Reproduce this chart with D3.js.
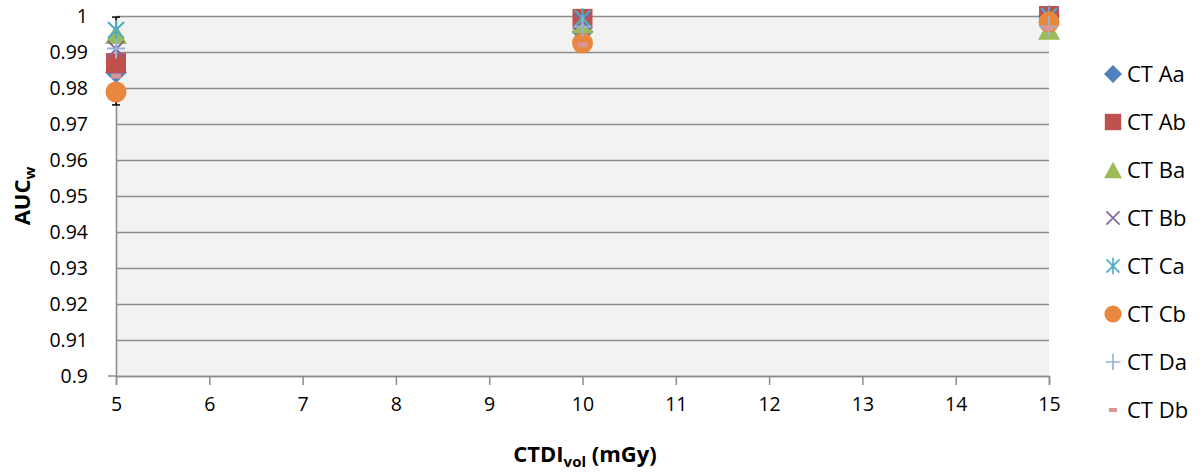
<!DOCTYPE html>
<html>
<head>
<meta charset="utf-8">
<script src="https://cdn.jsdelivr.net/npm/d3@7"></script>
<style>
  body { margin: 0; background: #fff; }
  text { font-family: "Open Sans", "Liberation Sans", sans-serif; fill: #000; }
</style>
</head>
<body>
<svg width="1204" height="472"></svg>
<script>
var doses = [5, 10, 15];
var seriesNames = ["CT Aa", "CT Ab", "CT Ba", "CT Bb", "CT Ca", "CT Cb", "CT Da", "CT Db"];
var aa = [0.9844, 0.9956, 1.0];
var ab = [0.9869, 0.9992, 1.0];
var ba = [0.9950, 0.9980, 0.9962];
var bb = [0.9908, 0.9985, 0.9995];
var ca = [0.9961, 0.9994, 1.0];
var cb = [0.9789, 0.9925, 0.9983];
var da = [0.9910, 0.9970, 0.9970];
var db = [0.9833, 0.9920, 0.9967];
var errLow = [0.9753, 0.9900, 0.9970];
var errHigh = [0.9997, 1.0005, 1.0];
var xTicks = [5, 6, 7, 8, 9, 10, 11, 12, 13, 14, 15];
var yTicks = [0.9, 0.91, 0.92, 0.93, 0.94, 0.95, 0.96, 0.97, 0.98, 0.99, 1];

var values = [aa, ab, ba, bb, ca, cb, da, db];
var colors = ["#4F81BD", "#C0504D", "#9BBB59", "#8064A2", "#4BACC6", "#E8883E", "#95B3D7", "#D99694"];
var shapes = ["diamond", "square", "triangle", "x", "star", "circle", "plus", "dash"];

var svg = d3.select("svg");
var plotLeft = 116, plotRight = 1049, plotTop = 16, plotBottom = 376;

var x = d3.scaleLinear().domain([5, 15]).range([plotLeft, plotRight]);
var y = d3.scaleLinear().domain([0.9, 1]).range([plotBottom, plotTop]);

svg.append("rect")
    .attr("x", plotLeft).attr("y", plotTop)
    .attr("width", plotRight - plotLeft).attr("height", plotBottom - plotTop)
    .attr("fill", "#F2F2F2");

// gridlines
svg.append("g")
    .attr("transform", "translate(" + plotLeft + ",0)")
    .call(d3.axisLeft(y).tickValues(yTicks).tickSize(-(plotRight - plotLeft)).tickFormat(""))
    .call(function(g) { g.select(".domain").remove(); })
    .selectAll("line").attr("stroke", "#8C8C8C").attr("stroke-width", 1.5);

// y axis
var yAxis = svg.append("g")
    .attr("transform", "translate(" + plotLeft + ",0)")
    .call(d3.axisLeft(y).tickValues(yTicks).tickSize(0).tickPadding(28)
      .tickFormat(function(d) { return d === 1 ? "1" : d3.format(".2~f")(d); }));
yAxis.select(".domain").attr("stroke", "#8C8C8C").attr("stroke-width", 1.5);
yAxis.selectAll("text").style("font-size", "19.5px").style("font-family", "'Open Sans', sans-serif");

// x axis
var xAxis = svg.append("g")
    .attr("transform", "translate(0," + plotBottom + ")")
    .call(d3.axisBottom(x).tickValues(xTicks).tickSize(9).tickPadding(12).tickFormat(d3.format("d")));
xAxis.select(".domain").attr("stroke", "#8C8C8C").attr("stroke-width", 1.5);
xAxis.selectAll("line").attr("stroke", "#8C8C8C").attr("stroke-width", 1.5);
xAxis.selectAll("text").style("font-size", "19.5px").style("font-family", "'Open Sans', sans-serif");

// small tick left of origin
svg.append("line")
    .attr("x1", plotLeft - 8).attr("x2", plotLeft)
    .attr("y1", y(0.9)).attr("y2", y(0.9))
    .attr("stroke", "#8C8C8C").attr("stroke-width", 1.5);

// error bars
var eb = svg.append("g").attr("stroke", "#000").attr("stroke-width", 1.5);
doses.forEach(function(d, i) {
  eb.append("line").attr("x1", x(d)).attr("x2", x(d)).attr("y1", y(errLow[i])).attr("y2", y(errHigh[i]));
  eb.append("line").attr("x1", x(d) - 4).attr("x2", x(d) + 4).attr("y1", y(errLow[i])).attr("y2", y(errLow[i]));
  eb.append("line").attr("x1", x(d) - 4).attr("x2", x(d) + 4).attr("y1", y(errHigh[i])).attr("y2", y(errHigh[i]));
});

function drawMarker(g, shape, color) {
  if (shape === "diamond") {
    g.append("path").attr("d", "M0,-11L11,0L0,11L-11,0Z").attr("fill", color);
  } else if (shape === "square") {
    g.append("rect").attr("x", -10).attr("y", -10).attr("width", 20).attr("height", 20).attr("fill", color);
  } else if (shape === "triangle") {
    g.append("path").attr("d", "M0,-10L11,10L-11,10Z").attr("fill", color);
  } else if (shape === "circle") {
    g.append("circle").attr("r", 10.5).attr("fill", color);
  } else if (shape === "x") {
    g.append("path").attr("d", "M-8,-8L8,8M-8,8L8,-8").attr("stroke", color).attr("stroke-width", 2).attr("fill", "none");
  } else if (shape === "star") {
    g.append("path").attr("d", "M-8,-8L8,8M-8,8L8,-8M0,-10L0,10").attr("stroke", color).attr("stroke-width", 2).attr("fill", "none");
  } else if (shape === "plus") {
    g.append("path").attr("d", "M-9,0L9,0M0,-10L0,10").attr("stroke", color).attr("stroke-width", 2).attr("fill", "none");
  } else if (shape === "dash") {
    g.append("rect").attr("x", -5).attr("y", -2.5).attr("width", 10).attr("height", 5).attr("fill", color);
  }
}

values.forEach(function(vals, s) {
  var grp = svg.append("g");
  vals.forEach(function(v, i) {
    var g = grp.append("g").attr("transform", "translate(" + x(doses[i]) + "," + y(v) + ")");
    drawMarker(g, shapes[s], colors[s]);
  });
});

// legend
var legend = svg.append("g");
seriesNames.forEach(function(name, i) {
  var ly = 74 + i * 48;
  var g = legend.append("g").attr("transform", "translate(1113," + ly + ")");
  drawMarker(g.append("g").attr("transform", "scale(0.82)"), shapes[i], colors[i]);
  legend.append("text").attr("x", 1127).attr("y", ly).attr("dy", "0.35em")
      .style("font-size", "22px").text(name);
});

// axis titles
var yt = svg.append("text")
    .attr("transform", "translate(30,196) rotate(-90)")
    .attr("text-anchor", "middle")
    .style("font-size", "22px").style("font-weight", "bold");
yt.append("tspan").text("AUC");
yt.append("tspan").attr("dy", 5).style("font-size", "15px").text("w");

var xt = svg.append("text")
    .attr("x", 585).attr("y", 462)
    .attr("text-anchor", "middle")
    .style("font-size", "22px").style("font-weight", "bold");
xt.append("tspan").text("CTDI");
xt.append("tspan").attr("dy", 5).style("font-size", "15px").text("vol");
xt.append("tspan").attr("dy", -5).text(" (mGy)");
</script>
</body>
</html>
